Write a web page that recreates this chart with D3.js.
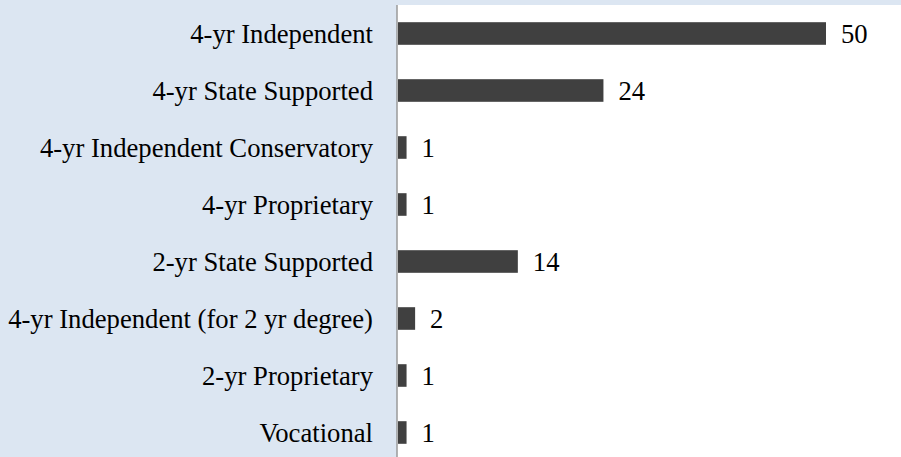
<!DOCTYPE html>
<html>
<head>
<meta charset="utf-8">
<script src="https://cdn.jsdelivr.net/npm/d3@7"></script>
<style>
  html, body { margin: 0; padding: 0; background: #dce6f2; }
  svg { display: block; }
</style>
</head>
<body>
<svg id="chart" width="901" height="457"></svg>
<script>
const categories = [
  "4-yr Independent",
  "4-yr State Supported",
  "4-yr Independent Conservatory",
  "4-yr Proprietary",
  "2-yr State Supported",
  "4-yr Independent (for 2 yr degree)",
  "2-yr Proprietary",
  "Vocational"
];
const values = [50, 24, 1, 1, 14, 2, 1, 1];

const W = 901, H = 457;
const plotLeft = 397, plotTop = 5;
const FONT = '"Liberation Serif"';
const svg = d3.select("#chart");

svg.append("rect").attr("x", 0).attr("y", 0).attr("width", W).attr("height", H).attr("fill", "#dce6f2");
svg.append("rect").attr("x", plotLeft).attr("y", plotTop).attr("width", W - plotLeft).attr("height", H - plotTop).attr("fill", "#ffffff");

const x = d3.scaleLinear().domain([0, 50]).range([plotLeft + 1, 826]);
const y = d3.scaleBand().domain(categories).range([plotTop, plotTop + 57 * categories.length]).paddingInner(0.6).paddingOuter(0.3);

const data = categories.map((c, i) => ({ c, v: values[i] }));

svg.append("g").selectAll("rect").data(data).join("rect")
  .attr("x", x(0))
  .attr("y", d => y(d.c) + y.bandwidth() / 2 - 11.3)
  .attr("width", d => x(d.v) - x(0))
  .attr("height", 22.6)
  .attr("fill", "#404040");

svg.append("g").selectAll("text").data(data).join("text")
  .attr("x", d => x(d.v) + 15)
  .attr("y", d => y(d.c) + y.bandwidth() / 2)
  .attr("dy", "0.36em")
  .style("font-family", FONT)
  .style("font-size", "26.67px")
  .style("fill", "#000")
  .text(d => d.v);

const yAxis = d3.axisLeft(y).tickSize(0).tickPadding(24);
const ga = svg.append("g").attr("transform", `translate(${plotLeft},0)`).call(yAxis);
ga.select(".domain").remove();
ga.selectAll("text")
  .attr("dy", "0.36em")
  .style("font-family", FONT)
  .style("font-size", "26.67px")
  .style("fill", "#000");

svg.append("line")
  .attr("x1", plotLeft).attr("x2", plotLeft)
  .attr("y1", plotTop).attr("y2", H)
  .attr("stroke", "#9a9a9a").attr("stroke-width", 1.5);
</script>
</body>
</html>
